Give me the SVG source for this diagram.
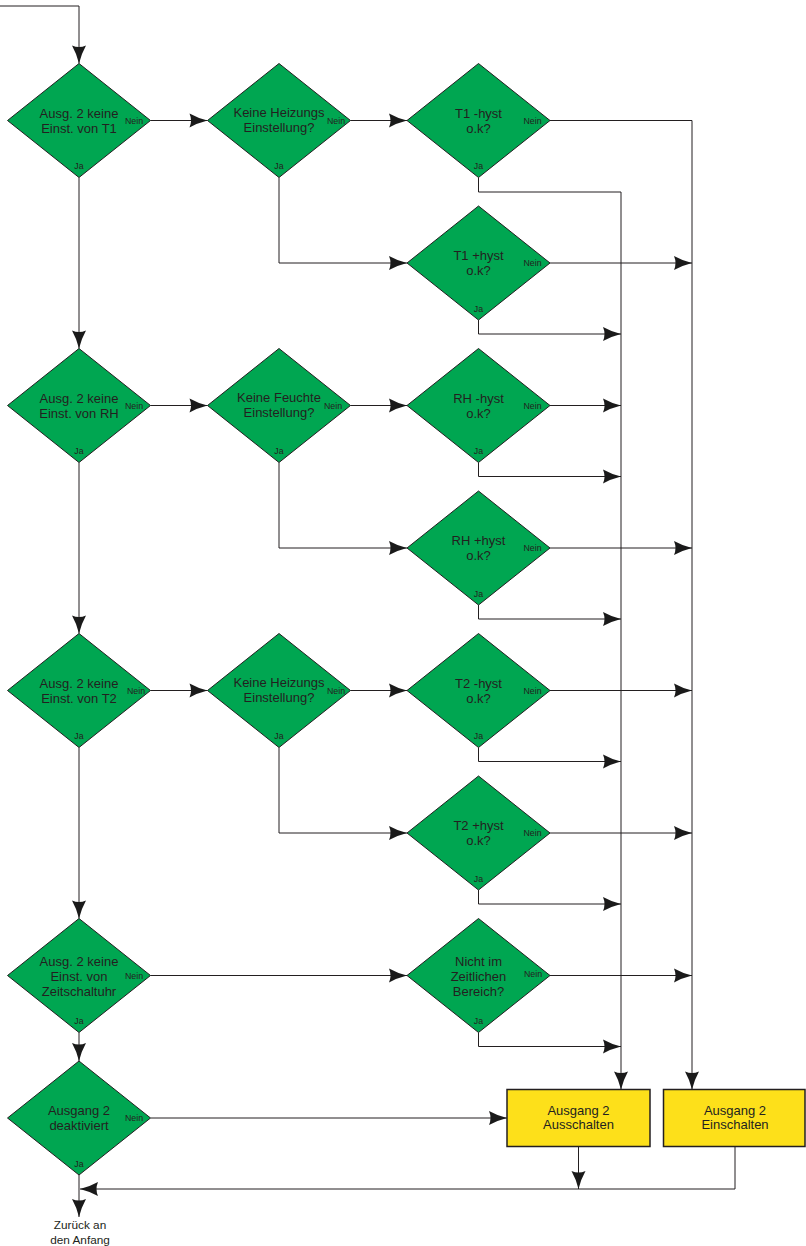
<svg xmlns="http://www.w3.org/2000/svg" width="806" height="1246" viewBox="0 0 806 1246">
<style>
.d{fill:#00a651;stroke:#231f20;stroke-width:1}
.b{fill:#fde01a;stroke:#231f20;stroke-width:1.5}
.t{font-family:"Liberation Sans",Arial,sans-serif;font-size:13px;fill:#231f20;text-anchor:middle}
.s{font-family:"Liberation Sans",Arial,sans-serif;font-size:8.8px;fill:#231f20;text-anchor:middle}
.z{font-family:"Liberation Sans",Arial,sans-serif;font-size:11.8px;fill:#231f20;text-anchor:middle}
.c{fill:none;stroke:#231f20;stroke-width:1;marker-end:url(#ah)}
.n{fill:none;stroke:#231f20;stroke-width:1}
</style>
<defs>
<marker id="ah" markerUnits="userSpaceOnUse" orient="auto" refX="0" refY="0" markerWidth="20" markerHeight="16" viewBox="-19 -8 20 16" overflow="visible">
<path d="M0,0 Q-10,-2.5 -18,-7 Q-15,0 -18,7 Q-10,2.5 0,0Z" fill="#1a1a1a"/>
</marker>
</defs>
<g id="connectors">
<path class="c" d="M0,6 H79 V63.5"/>
<path class="c" d="M150.5,120.5 H207.5"/>
<path class="c" d="M350.5,120.5 H407"/>
<path class="c" d="M550,120.5 H692 V1089.5"/>
<path class="c" d="M478.5,177.5 V192 H621 V1089.5"/>
<path class="c" d="M279,177.5 V263 H407"/>
<path class="c" d="M550,263 H692"/>
<path class="c" d="M478.5,320 V334 H621"/>
<path class="c" d="M79,177.5 V348.5"/>
<path class="c" d="M150.5,405.5 H207.5"/>
<path class="c" d="M350.5,405.5 H407"/>
<path class="c" d="M550,405.5 H621"/>
<path class="c" d="M478.5,462.5 V476.5 H621"/>
<path class="c" d="M279,462.5 V548 H407"/>
<path class="c" d="M550,548 H692"/>
<path class="c" d="M478.5,605 V619 H621"/>
<path class="c" d="M79,462.5 V633.5"/>
<path class="c" d="M150.5,690.5 H207.5"/>
<path class="c" d="M350.5,690.5 H407"/>
<path class="c" d="M550,690.5 H692"/>
<path class="c" d="M478.5,747.5 V761.5 H621"/>
<path class="c" d="M279,747.5 V833 H407"/>
<path class="c" d="M550,833 H692"/>
<path class="c" d="M478.5,890 V904 H621"/>
<path class="c" d="M79,747.5 V918.5"/>
<path class="c" d="M150.5,975.5 H407"/>
<path class="c" d="M550,975.5 H692"/>
<path class="c" d="M478.5,1032.5 V1046.5 H621"/>
<path class="c" d="M79,1032.5 V1061"/>
<path class="c" d="M150.5,1118 H507"/>
<path class="c" d="M79,1175 V1217"/>
<path class="c" d="M578.5,1146.5 V1189"/>
<path class="c" d="M735,1146.5 V1189 H80"/>
</g>
<g id="n1"><polygon class="d" points="79,63.5 150.5,120.5 79,177.5 7.5,120.5"/><text class="t" x="79" y="117.5">Ausg. 2 keine</text><text class="t" x="79" y="132.5">Einst. von T1</text><text class="s" x="134" y="123.5">Nein</text><text class="s" x="79" y="169">Ja</text></g>
<g id="n2"><polygon class="d" points="279,63.5 350.5,120.5 279,177.5 207.5,120.5"/><text class="t" x="279" y="117">Keine Heizungs</text><text class="t" x="279" y="132">Einstellung?</text><text class="s" x="336" y="123.5">Nein</text><text class="s" x="279" y="169">Ja</text></g>
<g id="n3"><polygon class="d" points="478.5,63.5 550,120.5 478.5,177.5 407,120.5"/><text class="t" x="478.5" y="117.5">T1 -hyst</text><text class="t" x="478.5" y="132.5">o.k?</text><text class="s" x="532.5" y="123.5">Nein</text><text class="s" x="478.5" y="169">Ja</text></g>
<g id="n4"><polygon class="d" points="478.5,206 550,263 478.5,320 407,263"/><text class="t" x="478.5" y="260">T1 +hyst</text><text class="t" x="478.5" y="275">o.k?</text><text class="s" x="532.5" y="266">Nein</text><text class="s" x="478.5" y="311.5">Ja</text></g>
<g id="n5"><polygon class="d" points="79,348.5 150.5,405.5 79,462.5 7.5,405.5"/><text class="t" x="79" y="402.5">Ausg. 2 keine</text><text class="t" x="79" y="417.5">Einst. von RH</text><text class="s" x="134" y="408.5">Nein</text><text class="s" x="79" y="454">Ja</text></g>
<g id="n6"><polygon class="d" points="279,348.5 350.5,405.5 279,462.5 207.5,405.5"/><text class="t" x="279" y="402">Keine Feuchte</text><text class="t" x="279" y="417">Einstellung?</text><text class="s" x="333" y="408.5">Nein</text><text class="s" x="279" y="454">Ja</text></g>
<g id="n7"><polygon class="d" points="478.5,348.5 550,405.5 478.5,462.5 407,405.5"/><text class="t" x="478.5" y="402.5">RH -hyst</text><text class="t" x="478.5" y="417.5">o.k?</text><text class="s" x="532.5" y="408.5">Nein</text><text class="s" x="478.5" y="454">Ja</text></g>
<g id="n8"><polygon class="d" points="478.5,491 550,548 478.5,605 407,548"/><text class="t" x="478.5" y="545">RH +hyst</text><text class="t" x="478.5" y="560">o.k?</text><text class="s" x="532.5" y="551">Nein</text><text class="s" x="478.5" y="596.5">Ja</text></g>
<g id="n9"><polygon class="d" points="79,633.5 150.5,690.5 79,747.5 7.5,690.5"/><text class="t" x="79" y="687.5">Ausg. 2 keine</text><text class="t" x="79" y="702.5">Einst. von T2</text><text class="s" x="136" y="693.5">Nein</text><text class="s" x="79" y="739">Ja</text></g>
<g id="n10"><polygon class="d" points="279,633.5 350.5,690.5 279,747.5 207.5,690.5"/><text class="t" x="279" y="687">Keine Heizungs</text><text class="t" x="279" y="702">Einstellung?</text><text class="s" x="336" y="693.5">Nein</text><text class="s" x="279" y="739">Ja</text></g>
<g id="n11"><polygon class="d" points="478.5,633.5 550,690.5 478.5,747.5 407,690.5"/><text class="t" x="478.5" y="687.5">T2 -hyst</text><text class="t" x="478.5" y="702.5">o.k?</text><text class="s" x="532.5" y="693.5">Nein</text><text class="s" x="478.5" y="739">Ja</text></g>
<g id="n12"><polygon class="d" points="478.5,776 550,833 478.5,890 407,833"/><text class="t" x="478.5" y="830">T2 +hyst</text><text class="t" x="478.5" y="845">o.k?</text><text class="s" x="532.5" y="836">Nein</text><text class="s" x="478.5" y="881.5">Ja</text></g>
<g id="n13"><polygon class="d" points="79,918.5 150.5,975.5 79,1032.5 7.5,975.5"/><text class="t" x="79" y="966">Ausg. 2 keine</text><text class="t" x="79" y="981">Einst. von</text><text class="t" x="79" y="996">Zeitschaltuhr</text><text class="s" x="134" y="978.5">Nein</text><text class="s" x="79" y="1024">Ja</text></g>
<g id="n14"><polygon class="d" points="478.5,918.5 550,975.5 478.5,1032.5 407,975.5"/><text class="t" x="478.5" y="966">Nicht im</text><text class="t" x="478.5" y="981">Zeitlichen</text><text class="t" x="478.5" y="996">Bereich?</text><text class="s" x="533" y="976.5">Nein</text><text class="s" x="478.5" y="1024">Ja</text></g>
<g id="n15"><polygon class="d" points="79,1061 150.5,1118 79,1175 7.5,1118"/><text class="t" x="79" y="1115">Ausgang 2</text><text class="t" x="79" y="1130">deaktiviert</text><text class="s" x="134" y="1121">Nein</text><text class="s" x="79" y="1166.5">Ja</text></g>
<g id="n16"><rect class="b" x="507" y="1089.5" width="143" height="57"/><text class="t" x="578.5" y="1114.5">Ausgang 2</text><text class="t" x="578.5" y="1129">Ausschalten</text></g>
<g id="n17"><rect class="b" x="663.5" y="1089.5" width="141.5" height="57"/><text class="t" x="735" y="1114.5">Ausgang 2</text><text class="t" x="735" y="1129">Einschalten</text></g>
<g id="n18"><text class="z" x="80" y="1229">Zurück an</text><text class="z" x="80" y="1243.5">den Anfang</text></g>
</svg>
